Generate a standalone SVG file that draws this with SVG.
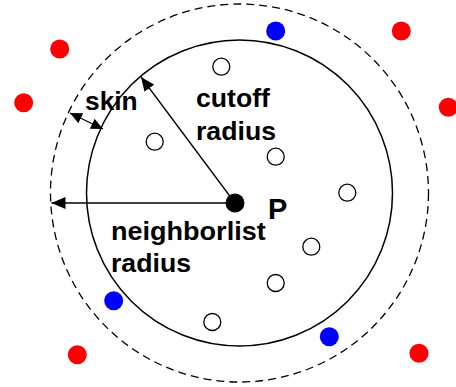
<svg xmlns="http://www.w3.org/2000/svg" width="456" height="387" viewBox="0 0 456 387">
<style>
.lbl{font-family:"Liberation Sans",Arial,sans-serif;font-weight:bold;font-size:26px;fill:#000}
.open{fill:#fff;stroke:#000;stroke-width:1.3}
.red{fill:#ff0000}
.blue{fill:#0000ff}
.con{stroke:#000;stroke-width:1.3;fill:none}
</style>
<defs>
<marker id="ah" viewBox="0 0 12 11" refX="12" refY="5.5" markerWidth="12" markerHeight="11" markerUnits="userSpaceOnUse" orient="auto-start-reverse">
<path d="M0,0 L12,5.5 L0,11 z" fill="#000"/>
</marker>
<marker id="ahL" viewBox="0 0 14 12" refX="14" refY="6" markerWidth="14" markerHeight="12" markerUnits="userSpaceOnUse" orient="auto">
<path d="M0,0 L14,6 L0,12 z" fill="#000"/>
</marker>
</defs>
<rect width="456" height="387" fill="#fff"/>
<g id="outer-circle"><circle cx="239.5" cy="193" r="189" fill="none" stroke="#000" stroke-width="1.3" stroke-dasharray="8,5"/></g>
<g id="inner-circle"><circle cx="239.5" cy="193" r="153" fill="none" stroke="#000" stroke-width="1.5"/></g>
<g id="connectors">
<line class="con" x1="235" y1="203" x2="51.5" y2="203" marker-end="url(#ahL)"/>
<line class="con" x1="235" y1="203" x2="141" y2="77" marker-end="url(#ahL)"/>
<line class="con" x1="70" y1="113" x2="103" y2="129" marker-start="url(#ah)" marker-end="url(#ah)"/>
</g>
<g id="P"><circle cx="235" cy="203" r="9.5" fill="#000"/><text class="lbl" x="268" y="219" style="font-size:29px">P</text></g>
<g id="open-particles">
<circle class="open" cx="221.3" cy="66.7" r="8.5"/>
<circle class="open" cx="154.7" cy="141.7" r="8.5"/>
<circle class="open" cx="275.7" cy="156.7" r="8.5"/>
<circle class="open" cx="347.3" cy="192.7" r="8.5"/>
<circle class="open" cx="311.3" cy="246.7" r="8.5"/>
<circle class="open" cx="275.7" cy="283" r="8.5"/>
<circle class="open" cx="212.3" cy="322" r="8.5"/>
</g>
<g id="blue-particles">
<circle class="blue" cx="275.7" cy="31" r="9.5"/>
<circle class="blue" cx="113.7" cy="300.7" r="9.5"/>
<circle class="blue" cx="329.3" cy="336.7" r="9.5"/>
</g>
<g id="red-particles">
<circle class="red" cx="59.7" cy="49" r="9.5"/>
<circle class="red" cx="401.3" cy="31" r="9.5"/>
<circle class="red" cx="23.7" cy="102.7" r="9.5"/>
<circle class="red" cx="448.3" cy="107.3" r="9.5"/>
<circle class="red" cx="77.3" cy="354.7" r="9.5"/>
<circle class="red" cx="419" cy="353.3" r="9.5"/>
</g>
<g id="labels">
<text class="lbl" x="85" y="110" textLength="52.7" lengthAdjust="spacingAndGlyphs">skin</text>
<text class="lbl" x="196" y="107.3" textLength="74" lengthAdjust="spacingAndGlyphs">cutoff</text>
<text class="lbl" x="196" y="140" textLength="80" lengthAdjust="spacingAndGlyphs">radius</text>
<text class="lbl" x="111" y="240" textLength="154.7" lengthAdjust="spacingAndGlyphs">neighborlist</text>
<text class="lbl" x="111" y="272.3" textLength="80" lengthAdjust="spacingAndGlyphs">radius</text>
</g>
</svg>
